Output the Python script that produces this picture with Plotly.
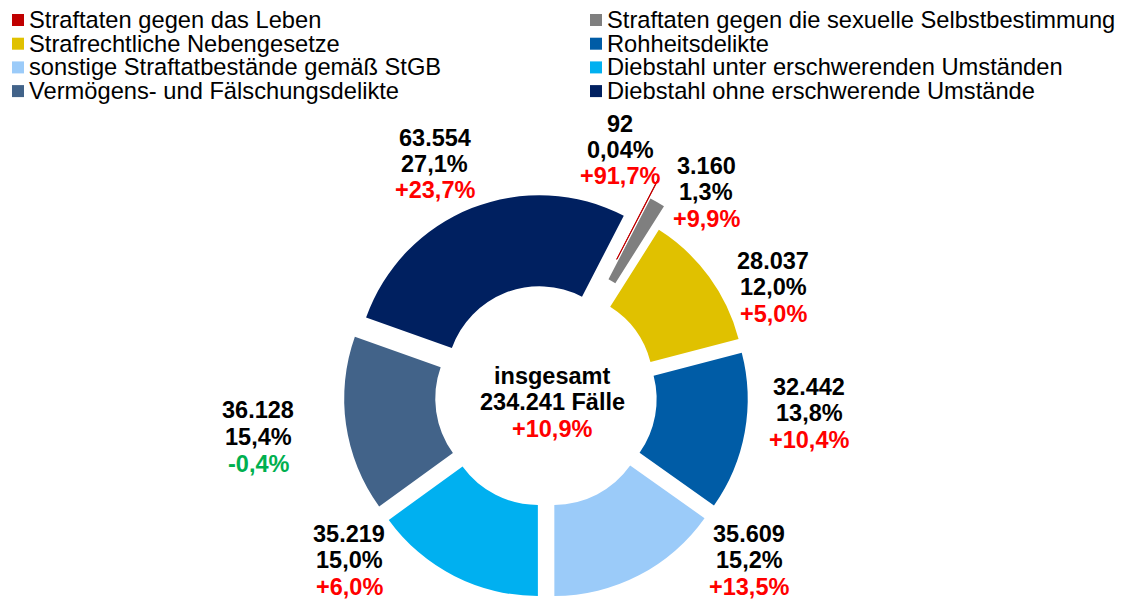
import math
import plotly.graph_objects as go

# ---------------- data ----------------
categories = [
    "Straftaten gegen das Leben",
    "Straftaten gegen die sexuelle Selbstbestimmung",
    "Strafrechtliche Nebengesetze",
    "Rohheitsdelikte",
    "sonstige Straftatbestände gemäß StGB",
    "Diebstahl unter erschwerenden Umständen",
    "Vermögens- und Fälschungsdelikte",
    "Diebstahl ohne erschwerende Umstände",
]
cases = [92, 3160, 28037, 32442, 35609, 35219, 36128, 63554]
change_pct = [91.7, 9.9, 5.0, 10.4, 13.5, 6.0, -0.4, 23.7]
total_change_pct = 10.9
center_title = "insgesamt"
center_unit = "Fälle"

# ---------------- styles / layout ----------------
colors = ["#C00000", "#7F7F7F", "#E0C100", "#005CA6",
          "#9BCBF9", "#00B0F0", "#426389", "#002060"]
W, H = 1126, 601
CX, CY = 546, 396          # donut centre (px)
R_OUT = 184                # outer radius (px)
HOLE = 0.505
ROTATION = 27.3
BASE_PULL_PX = 18
pull_px = [61, 39.5, 18, 18, 18, 18, 18, 18]
label_xy = [(620, 150), (706, 192), (773, 287), (809, 413),
            (749, 560), (349, 560), (258, 437), (434.5, 164)]
center_xy = (552, 402)
LINE_SP = 26.5
FONT = "Liberation Sans, Arial, sans-serif"
LBL_SIZE = 23.5
LEG_SIZE = 23.7
POS_COL = "#FF0000"
NEG_COL = "#00B050"
TRANSP = "rgba(0,0,0,0)"

total = sum(cases)


def px_domain(cx, cy, half):
    return dict(x=[(cx - half) / W, (cx + half) / W],
                y=[1 - (cy + half) / H, 1 - (cy - half) / H])


def de_int(v):
    return f"{v:,}".replace(",", ".")


def de_pct(v, dec=1, sign=False):
    s = f"{v:+.{dec}f}" if sign else f"{v:.{dec}f}"
    return s.replace(".", ",") + "%"


fig = go.Figure()

# main ring: all slices with the common pull (extra-pulled slices drawn separately)
base_pull = BASE_PULL_PX / R_OUT
main_colors = [c if p == BASE_PULL_PX else TRANSP for c, p in zip(colors, pull_px)]
fig.add_trace(go.Pie(
    labels=categories, values=cases, sort=False, direction="clockwise",
    rotation=ROTATION, hole=HOLE, pull=base_pull,
    marker=dict(colors=main_colors, line=dict(width=0)),
    textinfo="none", hoverinfo="label+value+percent", showlegend=False,
    domain=px_domain(CX, CY, R_OUT * (1 + base_pull)),
))

# slices that are pulled further out: same ring, shifted along their bisector
cum = 0
for i, v in enumerate(cases):
    mid = math.radians(ROTATION + 360.0 * (cum + v / 2) / total)
    cum += v
    if pull_px[i] == BASE_PULL_PX:
        continue
    d = pull_px[i]
    cx = CX + d * math.sin(mid)
    cy = CY - d * math.cos(mid)
    cols = [colors[j] if j == i else TRANSP for j in range(len(cases))]
    lw = [1 if (j == i and v / total < 0.005) else 0 for j in range(len(cases))]
    fig.add_trace(go.Pie(
        labels=categories, values=cases, sort=False, direction="clockwise",
        rotation=ROTATION, hole=HOLE,
        marker=dict(colors=cols, line=dict(width=lw, color=colors[i])),
        textinfo="none", hoverinfo="skip", showlegend=False,
        domain=px_domain(cx, cy, R_OUT),
    ))

annotations = []


def add_text(x, y, text, color):
    annotations.append(dict(
        x=x / W, y=1 - y / H, xref="paper", yref="paper",
        text=f"<b>{text}</b>", showarrow=False,
        xanchor="center", yanchor="middle",
        font=dict(family=FONT, size=LBL_SIZE, color=color),
    ))


for i, v in enumerate(cases):
    share = v / total * 100
    dec = 2 if share < 0.1 else 1
    lines = [(de_int(v), "#000000"),
             (de_pct(share, dec), "#000000"),
             (de_pct(change_pct[i], 1, sign=True),
              POS_COL if change_pct[i] >= 0 else NEG_COL)]
    x, yc = label_xy[i]
    for j, (t, c) in enumerate(lines):
        add_text(x, yc + (j - 1) * LINE_SP, t, c)

# centre text
cxl, cyl = center_xy
center_lines = [(center_title, "#000000"),
                (f"{de_int(total)} {center_unit}", "#000000"),
                (de_pct(total_change_pct, 1, sign=True),
                 POS_COL if total_change_pct >= 0 else NEG_COL)]
for j, (t, c) in enumerate(center_lines):
    add_text(cxl, cyl + (j - 1) * LINE_SP, t, c)

# legend (two columns, row-major)
shapes = []
LEG_COL_X = [12, 590]
LEG_ROW0, LEG_ROW_SP, SQ = 20, 23.7, 12
for i, name in enumerate(categories):
    row, col = divmod(i, 2)
    x0 = LEG_COL_X[col]
    yc = LEG_ROW0 + row * LEG_ROW_SP
    shapes.append(dict(
        type="rect", xref="paper", yref="paper",
        x0=x0 / W, x1=(x0 + SQ) / W,
        y0=1 - (yc + SQ / 2) / H, y1=1 - (yc - SQ / 2) / H,
        fillcolor=colors[i], line=dict(width=0),
    ))
    annotations.append(dict(
        x=(x0 + SQ + 3) / W, y=1 - yc / H, xref="paper", yref="paper",
        text=name, showarrow=False, xanchor="left", yanchor="middle",
        font=dict(family=FONT, size=LEG_SIZE, color="#000000"),
    ))

fig.update_layout(
    width=W, height=H, margin=dict(l=0, r=0, t=0, b=0),
    paper_bgcolor="white", plot_bgcolor="white", showlegend=False,
    annotations=annotations, shapes=shapes,
)

fig.write_html(
    "out.html",
    config={"displayModeBar": False},
    post_script="document.body.style.margin='0';document.body.style.padding='0';",
)
